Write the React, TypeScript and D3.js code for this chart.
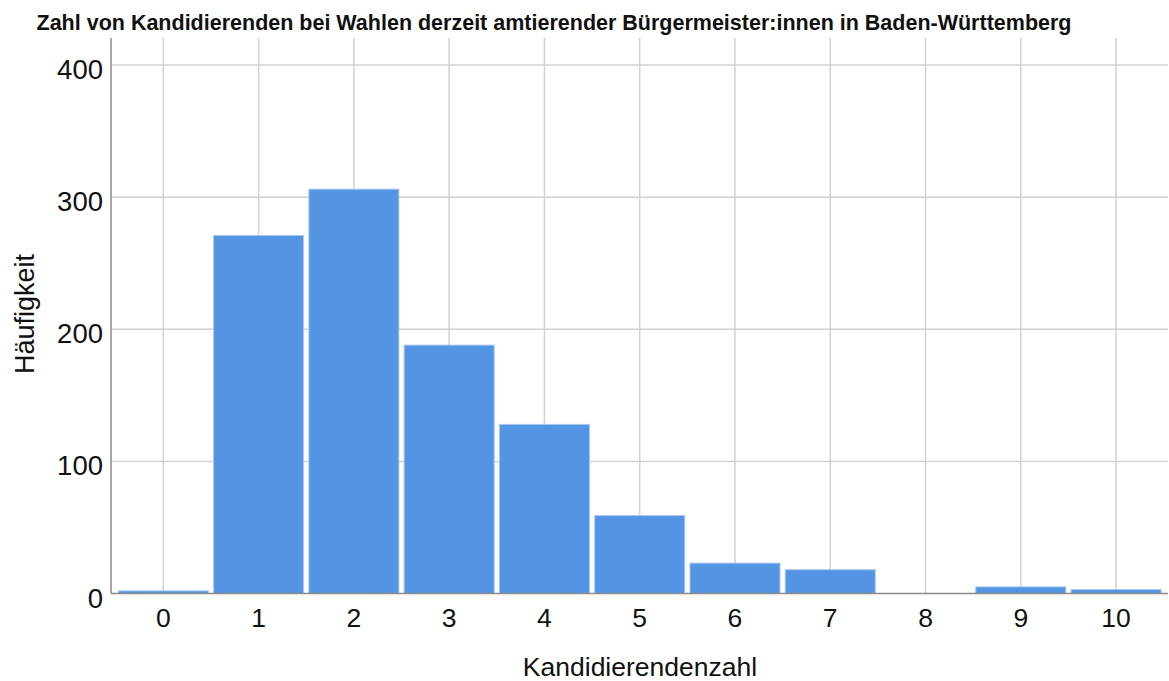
import React, { useEffect, useRef } from "react";
import * as d3 from "d3";

const categories = ["0", "1", "2", "3", "4", "5", "6", "7", "8", "9", "10"];
const counts = [2, 271, 306, 188, 128, 59, 23, 18, 0, 5, 3];
const yTicks = [0, 100, 200, 300, 400];

const title = "Zahl von Kandidierenden bei Wahlen derzeit amtierender Bürgermeister:innen in Baden-Württemberg";
const xTitle = "Kandidierendenzahl";
const yTitle = "Häufigkeit";

const W = 1169;
const H = 681;
const FONT = "Arial, 'Liberation Sans', sans-serif";

export default function App() {
    const ref = useRef<SVGSVGElement>(null);

    useEffect(() => {
        document.body.style.margin = "0";
        const svg = d3.select(ref.current);
        svg.selectAll("*").remove();

        const plot = { left: 111, right: 1168, top: 38, bottom: 593.5 };

        const x = d3.scaleBand<string>()
            .domain(categories)
            .range([115.7, 1163.7])
            .paddingInner(0.055)
            .paddingOuter(0.0275);

        const y = d3.scaleLinear()
            .domain([0, 400])
            .range([plot.bottom, 65]);

        const center = (c: string) => (x(c) as number) + x.bandwidth() / 2;

        // grid
        const grid = svg.append("g").attr("stroke", "#d2d2d2").attr("stroke-width", 1.5);
        grid.selectAll(".vgrid")
            .data(categories)
            .enter().append("line")
            .attr("x1", center).attr("x2", center)
            .attr("y1", plot.top).attr("y2", plot.bottom);
        grid.selectAll(".hgrid")
            .data(yTicks.filter(t => t > 0))
            .enter().append("line")
            .attr("x1", plot.left).attr("x2", plot.right)
            .attr("y1", d => y(d)).attr("y2", d => y(d));

        // bars
        svg.append("g")
            .selectAll("rect")
            .data(counts)
            .enter().append("rect")
            .attr("x", (d, i) => x(categories[i]) as number)
            .attr("width", x.bandwidth())
            .attr("y", d => y(d))
            .attr("height", d => y(0) - y(d))
            .attr("fill", "#5394e3")
            .attr("stroke", d => d > 0 ? "#a8c8f0" : "none")
            .attr("stroke-width", 1);

        // axis lines
        svg.append("line")
            .attr("x1", plot.left).attr("x2", plot.left)
            .attr("y1", plot.top).attr("y2", plot.bottom)
            .attr("stroke", "#8a8a8a").attr("stroke-width", 1.5);
        svg.append("line")
            .attr("x1", plot.left).attr("x2", plot.right)
            .attr("y1", plot.bottom).attr("y2", plot.bottom)
            .attr("stroke", "#8a8a8a").attr("stroke-width", 1.5);

        // y tick labels
        svg.append("g")
            .selectAll("text")
            .data(yTicks)
            .enter().append("text")
            .attr("x", 103)
            .attr("y", d => y(d) + 14)
            .attr("text-anchor", "end")
            .attr("font-family", FONT)
            .attr("font-size", 27.5)
            .attr("fill", "#111")
            .text(d => d);

        // x tick labels
        svg.append("g")
            .selectAll("text")
            .data(categories)
            .enter().append("text")
            .attr("x", center)
            .attr("y", 627)
            .attr("text-anchor", "middle")
            .attr("font-family", FONT)
            .attr("font-size", 26.5)
            .attr("fill", "#111")
            .text(d => d);

        // titles
        svg.append("text")
            .attr("x", 554)
            .attr("y", 30)
            .attr("text-anchor", "middle")
            .attr("font-family", FONT)
            .attr("font-weight", "bold")
            .attr("font-size", 21.5)
            .attr("fill", "#111")
            .text(title);

        svg.append("text")
            .attr("x", 640)
            .attr("y", 676)
            .attr("text-anchor", "middle")
            .attr("font-family", FONT)
            .attr("font-size", 26.5)
            .attr("fill", "#111")
            .text(xTitle);

        svg.append("text")
            .attr("transform", "translate(34,314) rotate(-90)")
            .attr("text-anchor", "middle")
            .attr("font-family", FONT)
            .attr("font-size", 27)
            .attr("fill", "#111")
            .text(yTitle);
    }, []);

    return <svg ref={ref} width={W} height={H} style={{ display: "block", background: "#fff" }} />;
}
